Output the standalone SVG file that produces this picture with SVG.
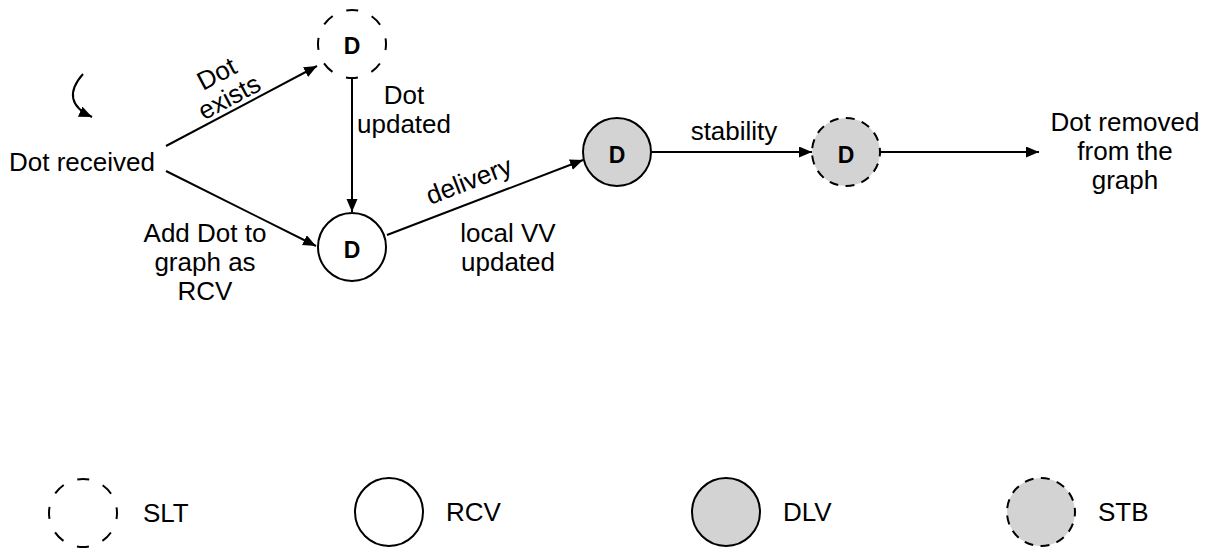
<svg xmlns="http://www.w3.org/2000/svg" width="1209" height="548" viewBox="0 0 1209 548">
<defs>
<marker id="arr" markerUnits="userSpaceOnUse" markerWidth="14" markerHeight="12" refX="13" refY="5.5" orient="auto">
<path d="M0,0 L13,5.5 L0,11 z" fill="#000"/>
</marker>
<style>
text{font-family:"Liberation Sans",Arial,Helvetica,sans-serif;font-size:26px;fill:#000}
.lbl{text-anchor:middle}
.d{font-size:23px;font-weight:bold;text-anchor:middle}
.edge{fill:none;stroke:#000;stroke-width:2}
.slt{fill:#fff;stroke:#000;stroke-width:2;stroke-dasharray:12 14.7;stroke-dashoffset:6}
.rcv{fill:#fff;stroke:#000;stroke-width:2}
.dlv{fill:#d3d3d3;stroke:#000;stroke-width:2}
.stb{fill:#d3d3d3;stroke:#000;stroke-width:2;stroke-dasharray:9 7.43;stroke-dashoffset:4.5}
</style>
</defs>
<rect width="1209" height="548" fill="#fff"/>
<g id="connectors">
<path class="edge" d="M83,74 C67,92 70,107 92,117" marker-end="url(#arr)"/>
<line class="edge" x1="166" y1="146" x2="317" y2="66" marker-end="url(#arr)"/>
<line class="edge" x1="166" y1="171" x2="316" y2="246" marker-end="url(#arr)"/>
<line class="edge" x1="352" y1="77" x2="352" y2="212" marker-end="url(#arr)"/>
<line class="edge" x1="387" y1="235" x2="583" y2="160" marker-end="url(#arr)"/>
<line class="edge" x1="652" y1="152" x2="812" y2="152" marker-end="url(#arr)"/>
<line class="edge" x1="880" y1="152" x2="1039" y2="152" marker-end="url(#arr)"/>
<g transform="translate(223,85.5) rotate(-28)">
<text class="lbl" x="0" y="-4.5">Dot</text>
<text class="lbl" x="0" y="22">exists</text>
</g>
<text class="lbl" x="404" y="104">Dot</text>
<text class="lbl" x="404" y="133">updated</text>
<text class="lbl" x="205" y="242">Add Dot to</text>
<text class="lbl" x="205" y="271">graph as</text>
<text class="lbl" x="205" y="300">RCV</text>
<text class="lbl" transform="translate(472,189) rotate(-21)">delivery</text>
<text class="lbl" x="508" y="242">local VV</text>
<text class="lbl" x="508" y="271">updated</text>
<text class="lbl" x="734" y="140">stability</text>
</g>
<g id="dot-received"><text x="9" y="171">Dot received</text></g>
<g id="dot-removed">
<text class="lbl" x="1125" y="131">Dot removed</text>
<text class="lbl" x="1125" y="160">from the</text>
<text class="lbl" x="1125" y="189">graph</text>
</g>
<g id="node-slt"><circle class="slt" cx="352" cy="44" r="34"/><text class="d" x="352" y="54">D</text></g>
<g id="node-rcv"><circle class="rcv" cx="352" cy="247" r="34"/><text class="d" x="352" y="258">D</text></g>
<g id="node-dlv"><circle class="dlv" cx="617" cy="152" r="34"/><text class="d" x="617" y="163">D</text></g>
<g id="node-stb"><circle class="stb" cx="846" cy="152" r="34"/><text class="d" x="846" y="163">D</text></g>
<g id="legend-slt"><circle class="slt" cx="83" cy="513" r="34"/><text x="143" y="522">SLT</text></g>
<g id="legend-rcv"><circle class="rcv" cx="389" cy="512" r="34"/><text x="446" y="521">RCV</text></g>
<g id="legend-dlv"><circle class="dlv" cx="726" cy="512" r="34"/><text x="783" y="521">DLV</text></g>
<g id="legend-stb"><circle class="stb" cx="1041" cy="512" r="34"/><text x="1098" y="521">STB</text></g>
</svg>
